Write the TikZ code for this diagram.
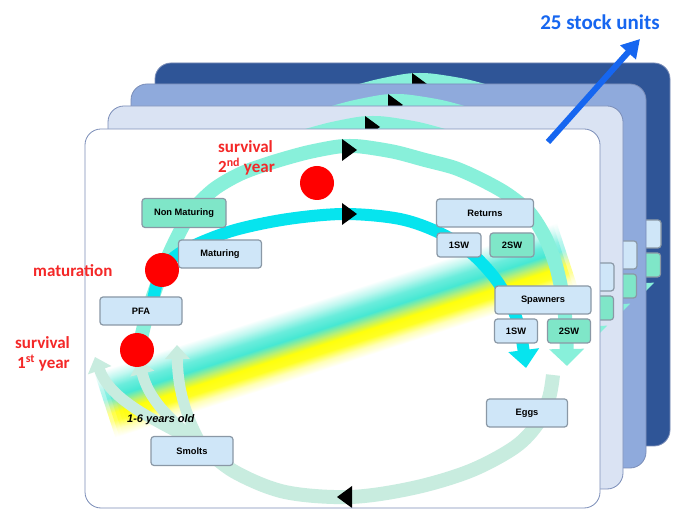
\documentclass[tikz,border=0pt]{standalone}
\usepackage{fontspec}
\setmainfont{Liberation Sans}
\newfontfamily\calib{Carlito}
\usetikzlibrary{arrows.meta}
\definecolor{pDark}{HTML}{2F5597}
\definecolor{pMid}{HTML}{8FAADC}
\definecolor{pLight}{HTML}{DAE3F3}
\definecolor{pEdge}{HTML}{7A8DB8}
\definecolor{boxBlue}{HTML}{CFE6F8}
\definecolor{boxGreen}{HTML}{7FE6C8}
\definecolor{boxEdge}{HTML}{8A98A6}
\definecolor{arcAqua}{HTML}{88F0DA}
\definecolor{arcCyan}{HTML}{06E4EE}
\definecolor{arcPale}{HTML}{C8ECDF}
\definecolor{redDot}{HTML}{FF0000}
\definecolor{redText}{HTML}{F42828}
\definecolor{blueArrow}{HTML}{1666F0}
\definecolor{bY}{HTML}{FFFF00}
\definecolor{bG}{HTML}{B4F070}
\definecolor{bT}{HTML}{3EE8D2}
\pgfdeclareverticalshading{beamshade}{100bp}{color(0bp)=(white); color(25bp)=(white); color(31bp)=(bY!30!white); color(37bp)=(bY!90!white); color(43bp)=(bY); color(48bp)=(bG); color(54bp)=(bT); color(61bp)=(bT!80!white); color(68bp)=(bT!35!white); color(75bp)=(white); color(100bp)=(white)}
\newif\ifpaneltext
\newcommand{\bt}[1]{\ifpaneltext #1\fi}
\tikzset{
  boxbase/.style={draw=boxEdge, line width=1.2pt, rounded corners=3pt, inner sep=0pt,
     font=\bfseries\fontsize{9.3}{11}\selectfont, text=black},
  bluebox/.style={boxbase, fill=boxBlue},
  greenbox/.style={boxbase, fill=boxGreen},
  aquaarc/.style={draw=arcAqua, line width=14pt, -{Triangle[width=34pt,length=17pt]}},
  cyanarc/.style={draw=arcCyan, line width=12pt, -{Triangle[width=30pt,length=18pt]}},
  palearc/.style={draw=arcPale, line width=14pt},
  palearrow/.style={draw=arcPale, line width=11pt, -{Triangle[width=24pt,length=14pt]}},
  reddot/.style={circle, fill=redDot, minimum size=34pt, inner sep=0pt},
  redlab/.style={font=\calib\bfseries\fontsize{17}{20}\selectfont, text=redText, inner sep=0pt},
  panelframe/.style={draw=pEdge, line width=0.8pt, rounded corners=16pt}
}
\newcommand{\panelbody}[3]{%
\begin{scope}[shift={(#1,-#2)}, name prefix=#3-]
 \draw[aquaarc] plot[smooth, tension=0.5] coordinates {(138,352) (146,318) (157,285) (171,250) (190,214) (213,190) (240,174) (270,163) (305,153) (335,147) (350,146) (365,147) (395,152) (425,160) (455,168) (482,180) (507,194) (529,212) (545,237) (556,266) (563,298) (566,330) (567,366)};
 \draw[cyanarc] plot[smooth, tension=0.55] coordinates {(153,300) (159,277) (172,259) (195,245) (235,230) (288,219) (345,214) (400,219) (440,233) (470,252) (494,277) (510,303) (520,330) (526,368)};
 \draw[palearc] plot[smooth, tension=0.55] coordinates {(553,375) (549,398) (538,423) (515,447) (470,471) (413,488) (350,497) (285,492) (235,472) (203,447)};
 \coordinate (fork) at (203,447);
 \coordinate (tipR) at (177,345);
 \coordinate (tipM) at (139,360);
 \coordinate (tipL) at (95,357);
 \draw[palearrow] (fork) .. controls (188,420) and (178,395) .. (tipR);
 \draw[palearrow] (fork) .. controls (178,425) and (150,405) .. (tipM);
 \draw[palearrow] (fork) .. controls (168,425) and (112,405) .. (tipL);
 \node[greenbox, minimum width=84pt, minimum height=29pt] (nonmat) at (184,213) {\bt{Non Maturing}};
 \node[bluebox, minimum width=83pt, minimum height=28pt] (mat) at (220,254) {\bt{Maturing}};
 \node[bluebox, minimum width=82pt, minimum height=28pt] (pfa) at (141,311) {\bt{PFA}};
 \node[bluebox, minimum width=97pt, minimum height=28pt] (returns) at (485,213) {\bt{Returns}};
 \node[bluebox, minimum width=44pt, minimum height=24pt] (retA) at (459,245) {\bt{1SW}};
 \node[greenbox, minimum width=44pt, minimum height=24pt] (retB) at (512,245) {\bt{2SW}};
 \node[bluebox, minimum width=96pt, minimum height=28pt] (spawn) at (543,300) {\bt{Spawners}};
 \node[bluebox, minimum width=43pt, minimum height=24pt] (spA) at (516,331) {\bt{1SW}};
 \node[greenbox, minimum width=43pt, minimum height=24pt] (spB) at (569,331) {\bt{2SW}};
 \node[bluebox, minimum width=81pt, minimum height=28pt] (eggs) at (527,413) {\bt{Eggs}};
 \node[bluebox, minimum width=82pt, minimum height=29pt] (smolts) at (192,451) {\bt{Smolts}};
 \fill[black] (342,139) -- (342,161) -- (357,150) -- cycle;
 \fill[black] (342,203) -- (342,225) -- (357,214) -- cycle;
 \fill[black] (352,486) -- (352,508) -- (337,497) -- cycle;
\end{scope}}
\begin{document}
\begin{tikzpicture}[x=1pt,y=-1pt]
\useasboundingbox (0,0) rectangle (675,510);
\fill[white] (0,0) rectangle (675,510);
\paneltextfalse
% dark panel
\fill[pDark, rounded corners=16pt] (155,63) rectangle (670,446);
\begin{scope}
 \clip[rounded corners=16pt] (155,63) rectangle (670,446);
 \panelbody{70}{66}{pa}
\end{scope}
\draw[panelframe] (155,63) rectangle (670,446);
% medium panel
\fill[pMid, rounded corners=16pt] (131,84) rectangle (646,468);
\begin{scope}
 \clip[rounded corners=16pt] (131,84) rectangle (646,468);
 \panelbody{46}{45}{pb}
\end{scope}
\draw[panelframe] (131,84) rectangle (646,468);
% light panel
\fill[pLight, rounded corners=16pt] (108,106) rectangle (623,489);
\begin{scope}
 \clip[rounded corners=16pt] (108,106) rectangle (623,489);
 \panelbody{23}{23}{pc}
\end{scope}
\draw[panelframe] (108,106) rectangle (623,489);
% front panel
\paneltexttrue
\fill[white, rounded corners=16pt] (85,129) rectangle (600,508);
\begin{scope}
 \clip[rounded corners=16pt] (85,129) rectangle (600,508);
 \foreach \L in {243,239,235,231,227} {
   \shade[shading=beamshade, opacity=0.45, transform canvas={shift={(336,330)},rotate=18}] (-\L,-34) rectangle (\L,34);
 }
 \panelbody{0}{0}{pf}
 \node[reddot] (dotS2) at (317,183) {};
 \node[reddot] (dotMat) at (162,270) {};
 \node[reddot] (dotS1) at (137,350) {};
 \node[font=\bfseries\itshape\fontsize{11}{13}\selectfont, anchor=base west, inner sep=0pt] (ageLbl) at (127,423) {1-6 years old};
\end{scope}
\draw[panelframe] (85,129) rectangle (600,508);
% labels
\node[redlab, anchor=base west] (lblS2a) at (218,153) {survival};
\node[redlab, anchor=base west] (lblS2b) at (218,173) {2\textsuperscript{nd} year};
\node[redlab, anchor=base west] (lblMat) at (33,277) {maturation};
\node[redlab, anchor=base west] (lblS1a) at (15,349) {survival};
\node[redlab, anchor=base west] (lblS1b) at (17,369) {1\textsuperscript{st} year};
\node[font=\calib\bfseries\fontsize{21}{24}\selectfont, text=blueArrow, inner sep=0pt] (stock) at (600,22) {25 stock units};
\coordinate (stockFrom) at (548,142);
\coordinate (stockTip) at (640,39);
\draw[blueArrow, line width=6pt, -{Triangle[width=20pt,length=18pt]}] (stockFrom) -- (stockTip);
\end{tikzpicture}
\end{document}
